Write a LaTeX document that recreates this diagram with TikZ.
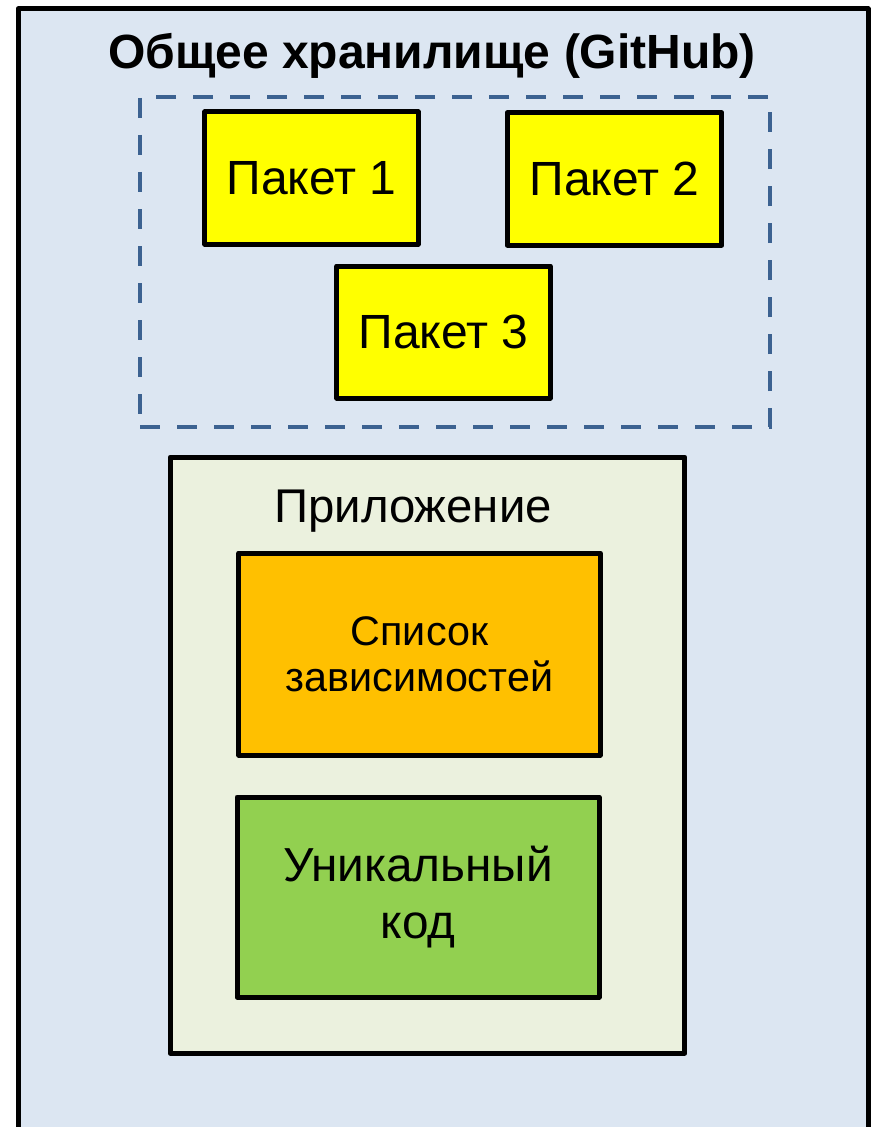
\documentclass[tikz,border=0pt]{standalone}
\usepackage{fontspec}
\setmainfont{Liberation Sans}

\definecolor{storeblue}{RGB}{220,230,242}
\definecolor{dashblue}{RGB}{60,98,145}
\definecolor{appfill}{RGB}{235,241,222}
\definecolor{pkgyellow}{RGB}{255,255,0}
\definecolor{deporange}{RGB}{255,192,0}
\definecolor{codegreen}{RGB}{146,208,80}

\tikzset{every picture/.style={line width=0.75pt}}
\tikzset{
  blockbox/.style={draw=black, line width=3.75pt, line join=round, inner sep=0pt, align=center},
  pkgbox/.style={blockbox, fill=pkgyellow, minimum width=160pt, minimum height=99pt, font=\fontsize{36}{43}\selectfont},
}

\begin{document}
\begin{tikzpicture}[x=0.75pt,y=0.75pt,yscale=-1,xscale=1]
		\useasboundingbox (0,0) rectangle (872,1127);
		\clip (0,0) rectangle (872,1127);

		%Shape: Rectangle [id:store]
		\draw [line width=3.75pt, line join=round, fill=storeblue] (18,9) rectangle (868,1150);
		% Text Node
		\node (storetitle) at (432,56) [inner sep=0pt, font=\bfseries\fontsize{36}{43}\selectfont] {Общее хранилище (GitHub)};

		%Shape: Dashed group [id:packages]
		\node (pkggroup) at (455,262) [draw=dashblue, line width=3pt, dash pattern=on 15pt off 12.75pt, minimum width=472.5pt, minimum height=247.5pt, inner sep=0pt] {};

		%Shape: Packages
		\node (pkg1) at (311.5,178) [pkgbox] {Пакет 1};
		\node (pkg2) at (614.5,179) [pkgbox, minimum width=161pt] {Пакет 2};
		\node (pkg3) at (443.5,332) [pkgbox] {Пакет 3};

		%Shape: Application [id:app]
		\node (app) at (427.5,755) [blockbox, fill=appfill, minimum width=386pt, minimum height=447pt] {};
		% Text Node
		\node (apptitle) at (413,522) [anchor=base, inner sep=0pt, font=\fontsize{35.5}{42}\selectfont] {Приложение};

		%Shape: Dependency list [id:deps]
		\node (deps) at (419.5,654) [blockbox, fill=deporange, minimum width=271pt, minimum height=151.5pt, font=\fontsize{31}{34.5}\selectfont] {Список\\зависимостей};

		%Shape: Unique code [id:code]
		\node (code) at (418,897) [blockbox, fill=codegreen, minimum width=271.5pt, minimum height=150pt, font=\fontsize{35.8}{43}\selectfont] {Уникальный\\код};

\end{tikzpicture}
\end{document}
